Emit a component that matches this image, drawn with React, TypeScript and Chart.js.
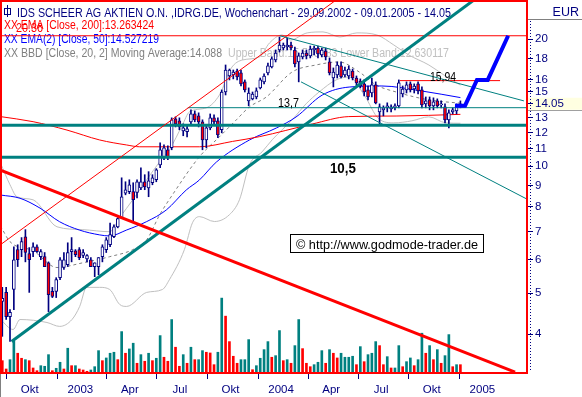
import React, { useEffect, useRef } from 'react';
import { Chart, registerables } from 'chart.js';

Chart.register(...registerables);

const FONT = '"Liberation Sans", Arial, Helvetica, sans-serif';
const NAVY = '#000080';
const TEAL = '#008080';
const RED = '#ff0000';
const BLUE = '#0000ff';

// ---------------- data (weekly candles, week 0 = week of 23.09.2002) ----------------
const firstWeek = '2002-09-23';

const opens = [4.78, 5.02, 4.40, 5.10, 6.34, 6.34, 6.80, 6.20, 6.27, 6.44,
  6.10, 6.10, 5.90, 5.05, 5.05, 5.44, 5.75, 5.84, 6.27, 6.30,
  6.34, 6.14, 6.03, 6.00, 5.78, 5.78, 6.10, 6.34, 6.51, 6.80,
  7.18, 7.55, 8.63, 8.70, 8.70, 8.66, 8.88, 9.18, 8.88, 9.13,
  9.28, 10.07, 10.52, 10.93, 11.05, 12.94, 12.80, 12.12, 12.06, 12.73,
  13.29, 13.15, 12.73, 11.54, 12.32, 13.01, 12.80, 12.19, 14.98, 16.35,
  16.44, 16.80, 16.62, 15.83, 14.27, 14.43, 14.58, 15.32, 15.83, 16.62,
  17.17, 17.84, 18.84, 19.04, 19.15, 19.36, 18.84, 17.65, 18.14, 18.53,
  18.24, 18.84, 19.04, 18.33, 18.73, 17.65, 16.17, 16.44, 17.27, 16.44,
  16.35, 16.80, 16.17, 15.91, 15.66, 15.15, 14.90, 15.57, 13.44, 13.59,
  13.74, 13.66, 13.74, 13.89, 14.82, 15.15, 15.66, 15.23, 15.66, 15.15,
  14.04, 14.35, 13.89, 14.27, 13.96, 13.81, 12.87, 13.44, 13.51, 13.89];
const highs = [5.16, 5.16, 4.57, 6.44, 6.51, 6.77, 7.07, 6.41, 6.58, 6.51,
  6.34, 6.24, 5.93, 5.16, 5.44, 6.07, 6.24, 6.58, 6.77, 6.34,
  6.41, 6.34, 6.17, 6.07, 5.90, 6.07, 6.51, 6.77, 7.33, 7.26,
  7.55, 9.38, 9.18, 9.28, 9.13, 9.28, 9.91, 9.54, 9.70, 9.54,
  9.86, 11.35, 11.23, 11.17, 13.01, 13.08, 13.01, 12.59, 12.52, 13.59,
  13.51, 13.37, 12.87, 12.52, 13.29, 13.22, 13.01, 15.15, 17.36, 16.98,
  16.89, 16.98, 16.89, 16.00, 15.32, 14.98, 15.32, 16.17, 16.53, 17.55,
  18.14, 18.84, 20.22, 19.57, 20.11, 19.68, 19.15, 18.53, 18.84, 18.84,
  19.25, 19.25, 19.25, 19.04, 19.04, 18.04, 17.08, 17.65, 17.65, 17.17,
  17.27, 16.98, 16.35, 16.09, 16.00, 15.48, 16.17, 15.83, 14.04, 13.89,
  14.12, 13.96, 14.04, 16.00, 15.48, 15.83, 15.83, 15.66, 15.83, 15.40,
  14.58, 14.58, 14.51, 14.43, 14.27, 14.04, 13.59, 13.74, 14.04, 14.27];
const lows = [3.95, 4.33, 3.84, 4.57, 5.78, 6.10, 5.93, 5.02, 6.10, 6.24,
  6.00, 5.78, 4.52, 4.88, 4.88, 5.38, 5.69, 5.78, 5.93, 6.10,
  6.00, 6.07, 5.93, 5.78, 5.47, 5.53, 5.93, 6.24, 6.44, 6.77,
  7.14, 7.51, 8.55, 8.60, 7.39, 8.41, 8.79, 8.79, 8.46, 9.03,
  9.18, 9.91, 10.35, 10.35, 10.93, 12.38, 12.19, 11.80, 11.73, 12.52,
  12.73, 12.38, 10.93, 11.05, 12.19, 12.52, 11.67, 11.99, 14.74, 16.00,
  16.09, 16.00, 15.48, 14.98, 13.89, 14.35, 14.43, 15.23, 15.66, 16.44,
  17.08, 17.65, 18.63, 18.84, 18.84, 18.84, 17.17, 15.83, 17.94, 17.94,
  18.04, 18.33, 18.04, 18.14, 17.84, 16.44, 15.40, 16.17, 16.17, 16.26,
  16.09, 16.00, 15.48, 15.32, 14.66, 14.35, 14.58, 14.04, 12.52, 13.15,
  13.44, 13.44, 13.59, 13.74, 14.58, 14.90, 14.98, 14.90, 14.82, 13.74,
  13.74, 13.59, 13.59, 13.74, 13.74, 12.66, 12.32, 13.29, 13.29, 13.74];
const closes = [4.86, 4.40, 4.50, 6.00, 6.00, 6.62, 6.24, 6.00, 6.44, 6.27,
  6.27, 5.78, 4.96, 4.91, 5.38, 6.00, 6.00, 6.24, 6.34, 6.17,
  6.07, 6.24, 6.14, 5.78, 5.90, 6.07, 6.44, 6.69, 6.88, 7.18,
  7.51, 8.46, 8.79, 9.03, 8.32, 9.18, 9.18, 8.93, 9.23, 9.38,
  9.80, 10.93, 11.05, 10.52, 12.87, 12.59, 12.38, 12.32, 12.25, 13.29,
  12.87, 12.73, 11.54, 12.32, 13.01, 12.73, 11.86, 14.98, 16.89, 16.89,
  16.71, 16.26, 15.66, 15.15, 14.90, 14.82, 15.07, 16.00, 16.35, 17.27,
  17.94, 18.53, 19.36, 19.36, 19.36, 19.04, 17.46, 18.24, 18.53, 18.24,
  18.94, 19.04, 18.43, 18.84, 18.14, 16.62, 16.71, 17.36, 16.26, 16.89,
  16.98, 16.17, 15.74, 15.48, 14.98, 14.58, 15.57, 14.12, 13.81, 13.74,
  13.89, 13.81, 13.89, 15.74, 15.23, 15.57, 15.15, 15.48, 15.07, 13.96,
  14.27, 13.89, 14.20, 13.89, 14.04, 12.87, 13.37, 13.59, 13.89, 14.05];

const volumes = [123, 40, 133, 317, 197, 147, 133, 123, 50, 23,
  73, 67, 183, 23, 47, 107, 40, 247, 73, 73,
  40, 30, 17, 30, 63, 223, 123, 150, 197, 207,
  133, 413, 197, 240, 297, 97, 183, 117, 197, 123,
  147, 373, 157, 117, 533, 257, 67, 183, 97, 257,
  133, 133, 223, 207, 200, 83, 207, 747, 567, 313,
  167, 97, 133, 133, 333, 33, 73, 147, 233, 313,
  157, 173, 423, 123, 133, 97, 273, 533, 243, 97,
  63, 83, 107, 223, 97, 233, 197, 150, 197, 157,
  157, 167, 83, 263, 113, 183, 197, 313, 273, 83,
  163, 50, 50, 273, 63, 113, 150, 73, 133, 397,
  197, 273, 133, 233, 97, 173, 383, 63, 83, 83];
const volumeUp = [0, 0, 1, 1, 0, 0, 1, 0, 0, 0,
  1, 1, 1, 0, 1, 1, 0, 1, 0, 1,
  0, 0, 0, 1, 1, 1, 0, 1, 1, 1,
  0, 1, 0, 1, 1, 0, 1, 0, 1, 0,
  1, 1, 0, 0, 1, 0, 0, 1, 0, 1,
  0, 1, 1, 0, 0, 0, 1, 1, 0, 0,
  0, 0, 1, 1, 1, 0, 1, 1, 1, 1,
  0, 1, 1, 0, 1, 0, 1, 1, 0, 0,
  0, 1, 1, 1, 0, 1, 0, 0, 1, 1,
  1, 1, 0, 1, 0, 1, 1, 1, 0, 0,
  1, 0, 1, 1, 0, 1, 1, 0, 1, 1,
  0, 1, 0, 1, 0, 1, 1, 0, 1, 0];

// indicator lines (week index, price)
const ema200Weeks = [-0.5, 8, 16.8, 25.3, 32.3, 35.7, 51.2, 59.8, 66.8, 80.5, 90, 102.3, 119];
const ema200Values = [13.1, 12.74, 12.17, 11.53, 11.22, 11.11, 11.11, 11.44, 11.74, 12.58, 13.1, 13.14, 13.26];
const ema50Weeks = [-0.5, 4.6, 9.8, 14.9, 20.1, 25.3, 27.9, 32.2, 37.4, 42.6, 47.8, 51.2, 55.6, 64.2, 71.2, 76.3, 83.1, 90.1, 98.6, 109, 119];
const ema50Values = [8.54, 8.39, 7.95, 7.38, 7.05, 6.87, 6.83, 7.05, 7.38, 7.87, 8.78, 9.27, 10.22, 11.53, 12.31, 13.07, 14.73, 15.39, 15.48, 15.06, 14.53];
const bbUpperWeeks = [-0.5, 2.0, 3.8, 8.0, 14.2, 20.9, 27.9, 30.5, 33.9, 37.5, 40.9, 43.4, 46.8, 48.6, 53.0, 56.4, 59.5, 62.4, 66.8, 69.4, 72.7, 74.8, 79.2, 83.3, 87.7, 92.1, 97.3, 101.7, 105.6, 110.8, 114.7, 119];
const bbUpperValues = [10.18, 9.03, 8.46, 8.32, 7.18, 7.07, 6.99, 7.55, 8.32, 9.28, 10.24, 10.93, 12.52, 13.44, 13.74, 14.74, 17.08, 17.84, 18.14, 19.57, 20.45, 19.89, 20.68, 20.79, 20.22, 20.68, 20.45, 19.36, 18.33, 17.36, 16.44, 15.55];
const bbLowerWeeks = [-0.5, 2.8, 4.6, 11.6, 14.9, 18.1, 20.1, 21.9, 25.3, 27.9, 30.5, 32.3, 37.5, 41.6, 43.4, 47.3, 49.4, 51.2, 55.1, 59.0, 61.6, 64.2, 67.5, 70.1, 72.7, 75.3, 78.9, 82.3, 86.7, 90.1, 94, 97.8, 101.7, 106.4, 110.8, 115.2, 119];
const bbLowerValues = [4.33, 4.10, 4.33, 4.26, 4.17, 4.33, 4.65, 5.16, 5.16, 5.10, 4.70, 4.65, 5.02, 5.10, 5.38, 6.34, 7.34, 7.59, 7.39, 7.67, 8.32, 10.07, 10.81, 11.54, 12.19, 12.87, 14.04, 14.98, 16.00, 16.26, 14.74, 12.94, 12.66, 12.80, 13.08, 12.66, 12.63];
const bbMidWeeks = [-0.5, 2.0, 8.0, 14.2, 20.9, 27.9, 33.9, 37.5, 40.9, 44.2, 51.2, 56.4, 60.8, 64.2, 68.6, 75.3, 81.5, 87.5, 92.7, 97.1, 102.3, 110.8, 119];
const bbMidValues = [7.22, 6.62, 6.30, 5.75, 5.90, 6.10, 6.34, 6.69, 7.67, 8.55, 10.52, 11.73, 12.87, 13.81, 14.58, 16.71, 17.36, 17.65, 16.71, 15.57, 14.98, 14.35, 14.09];

// drawn trend lines / levels
const upTrendWeeks = [2.4, 122.5];
const upTrendPrices = [3.84, 24.74];
const downTrendWeeks = [-0.6, 133.2];
const downTrendPrices = [9.79, 3.25];
const channelWeeks = [-0.6, 86.7];
const channelPrices = [6.5, 24.74];
const fanTopWeeks = [72.1, 135.5];
const fanTopPrices = [20.36, 14.27];
const fanSteepWeeks = [77.6, 136.3];
const fanSteepPrices = [15.83, 8.35];
const projectionWeeks = [117.6, 120.2, 123.3, 126.1, 131.4];
const projectionPrices = [13.9, 13.9, 16.0, 16.0, 20.36];
const resistanceTop = 20.36;
const level1594 = 15.94;
const level1594Weeks = [103.3, 129.3];
const level137 = 13.75;
const level137Start = 48.2;
const supportLevels = [12.5, 10.5];

// axes
const quarterStarts = ['2002-10-01', '2003-01-01', '2003-04-01', '2003-07-01', '2003-10-01', '2004-01-01', '2004-04-01', '2004-07-01', '2004-10-01', '2005-01-01'];
const quarterLabels = ['Okt', '2003', 'Apr', 'Jul', 'Okt', '2004', 'Apr', 'Jul', 'Okt', '2005'];
const priceTicks = [4, 5, 6, 7, 8, 9, 10, 11, 12, 13, 14.05, 15, 16, 18, 20];
const lastPrice = 14.05;

const X_MIN = -0.34;
const X_MAX = 136.3;
const Y_MIN = 3.234;
const Y_MAX = 24.61;
const VOL_MAX = 3710;

// ---------------- helpers ----------------
const DAY = 86400000;
const weekOf = (iso: string) =>
  (Date.parse(iso + 'T00:00:00Z') - Date.parse(firstWeek + 'T00:00:00Z')) / (7 * DAY);
const pts = (xs: number[], ys: number[]) => xs.map((x, k) => ({ x, y: ys[k] }));

function lineDs(xs: number[], ys: number[], color: string, width: number, order: number, extra: any = {}) {
  return {
    type: 'line',
    data: pts(xs, ys),
    borderColor: color,
    borderWidth: width,
    pointRadius: 0,
    pointHoverRadius: 0,
    pointBorderWidth: 0,
    fill: false,
    tension: 0,
    clip: 0,
    order,
    xAxisID: 'x',
    yAxisID: 'y',
    ...extra,
  };
}

function txt(ctx: CanvasRenderingContext2D, s: string, x: number, y: number, color: string, size: number, maxW?: number, bold = false, align: CanvasTextAlign = 'left') {
  ctx.font = `${bold ? 'bold ' : ''}${size}px ${FONT}`;
  ctx.fillStyle = color;
  ctx.textAlign = align;
  ctx.textBaseline = 'alphabetic';
  if (maxW) ctx.fillText(s, x, y, maxW);
  else ctx.fillText(s, x, y);
}

const decor = {
  id: 'decor',
  beforeDraw(chart: any) {
    const { ctx, chartArea: a, scales } = chart;
    ctx.save();
    ctx.fillStyle = '#ffffff';
    ctx.fillRect(0, 0, chart.width, chart.height);
    const yp = scales.y.getPixelForValue(lastPrice);
    ctx.fillStyle = '#ffffe1';
    ctx.fillRect(a.right + 1, yp - 6, chart.width - a.right - 1, 12);
    ctx.strokeStyle = '#a0a0a0';
    ctx.lineWidth = 1;
    ctx.beginPath();
    ctx.moveTo(a.right + 1, Math.round(yp + 6) + 0.5);
    ctx.lineTo(chart.width, Math.round(yp + 6) + 0.5);
    ctx.stroke();
    ctx.restore();
  },
  beforeDatasetsDraw(chart: any) {
    const { ctx } = chart;
    ctx.save();
    // icon
    ctx.strokeStyle = NAVY;
    ctx.lineWidth = 1;
    ctx.strokeRect(4.5, 8.5, 6, 6);
    ctx.beginPath();
    ctx.moveTo(7.5, 5);
    ctx.lineTo(7.5, 17);
    ctx.stroke();
    txt(ctx, 'IDS SCHEER AG AKTIEN O.N. ,IDRG.DE, Wochenchart - 29.09.2002 - 09.01.2005 - 14.05', 17, 16.5, NAVY, 12.5, 434);
    txt(ctx, 'XX EMA [Close, 200]:13.263424', 4, 28.5, RED, 12.5, 150);
    txt(ctx, 'XX EMA(2) [Close, 50]:14.527219', 4, 42.5, BLUE, 12.5, 155);
    txt(ctx, 'XX BBD [Close, 20, 2] Moving Average:14.088', 4, 57, '#808080', 12.5, 218);
    txt(ctx, 'Upper Band:15.545883 Lower Band:12.630117', 228, 57, '#c0c0c0', 12.5, 221);
    txt(ctx, '20.36', 16, 32, RED, 12, 27);
    ctx.restore();
  },
  afterDatasetsDraw(chart: any) {
    const { ctx, chartArea: a, scales } = chart;
    const xs = scales.x;
    const ys = scales.y;
    ctx.save();
    // level labels
    txt(ctx, '13,7', xs.getPixelForValue(71.6), ys.getPixelForValue(level137) - 0.5, '#000000', 12.5, 21);
    txt(ctx, '15,94', xs.getPixelForValue(111.1), ys.getPixelForValue(level1594) + 0.5, '#000000', 12.5, 26);
    txt(ctx, '10,5', xs.getPixelForValue(85.1), ys.getPixelForValue(supportLevels[1]) + 16, '#000000', 14, 26, true);
    // copyright box
    ctx.fillStyle = '#ffffff';
    ctx.fillRect(290, 234, 194, 19);
    ctx.strokeStyle = '#000000';
    ctx.lineWidth = 1;
    ctx.strokeRect(290.5, 234.5, 193, 18);
    txt(ctx, '\u00a9 http://www.godmode-trader.de', 296, 248.5, '#000000', 13, 182);
    // frame
    ctx.strokeStyle = RED;
    ctx.lineWidth = 2;
    ctx.strokeRect(a.left, a.top, a.right - a.left, a.bottom - a.top);
    // price axis dotted line
    ctx.strokeStyle = NAVY;
    ctx.lineWidth = 1;
    ctx.setLineDash([1, 2]);
    ctx.beginPath();
    ctx.moveTo(530.5, 21);
    ctx.lineTo(530.5, a.bottom - 2);
    ctx.stroke();
    ctx.setLineDash([]);
    // EUR header + small separators
    ctx.strokeStyle = '#808080';
    ctx.beginPath();
    ctx.moveTo(a.right + 1, 19.5);
    ctx.lineTo(chart.width, 19.5);
    ctx.moveTo(0.5, a.bottom + 1);
    ctx.lineTo(0.5, chart.height);
    ctx.stroke();
    txt(ctx, 'EUR', 579, 16, NAVY, 12.5, undefined, false, 'right');
    ctx.restore();
  },
};

export default function App() {
  const ref = useRef<HTMLCanvasElement>(null);

  useEffect(() => {
    document.body.style.margin = '0';
    const canvas = ref.current;
    if (!canvas) return;

    const idx = closes.map((_, i) => i);
    const wicks = idx.map((i) => ({ x: i, y: [lows[i], highs[i]] }));
    const bodies = idx.map((i) => ({ x: i, y: [Math.min(opens[i], closes[i]), Math.max(opens[i], closes[i])] }));
    const bodyColors = idx.map((i) => (closes[i] >= opens[i] ? '#ffffff' : RED));
    const volData = idx.map((i) => ({ x: i, y: volumes[i] }));
    const volColors = volumeUp.map((u) => (u ? TEAL : RED));

    const qw = quarterStarts.map(weekOf);
    const xTickValues: number[] = [];
    qw.forEach((w) => {
      xTickValues.push(w);
      xTickValues.push(w + 6);
    });

    const smooth = { cubicInterpolationMode: 'monotone' };

    const datasets: any[] = [
      {
        type: 'bar', data: volData, backgroundColor: volColors, barThickness: 2, grouped: false,
        xAxisID: 'x', yAxisID: 'yv', order: 30,
      },
      lineDs(bbUpperWeeks, bbUpperValues, '#c0c0c0', 1, 25, smooth),
      lineDs(bbLowerWeeks, bbLowerValues, '#c0c0c0', 1, 25, smooth),
      lineDs(bbMidWeeks, bbMidValues, '#808080', 1, 24, { ...smooth, borderDash: [3, 3] }),
      lineDs(ema200Weeks, ema200Values, RED, 1, 22, smooth),
      lineDs(ema50Weeks, ema50Values, BLUE, 1, 22, smooth),
      {
        type: 'bar', data: wicks, backgroundColor: NAVY, barThickness: 1, grouped: false,
        xAxisID: 'x', yAxisID: 'y', order: 12,
      },
      {
        type: 'bar', data: bodies, backgroundColor: bodyColors, borderColor: NAVY, borderWidth: 1,
        borderSkipped: false, barThickness: 3, grouped: false, xAxisID: 'x', yAxisID: 'y', order: 11,
      },
      lineDs([X_MIN, X_MAX], [resistanceTop, resistanceTop], RED, 1, 8),
      lineDs([level137Start, X_MAX], [level137, level137], TEAL, 1, 8),
      lineDs(level1594Weeks, [level1594, level1594], RED, 1, 8),
      lineDs([X_MIN, X_MAX], [supportLevels[0], supportLevels[0]], TEAL, 3, 7),
      lineDs([X_MIN, X_MAX], [supportLevels[1], supportLevels[1]], TEAL, 3, 7),
      lineDs(fanTopWeeks, fanTopPrices, TEAL, 1, 6),
      lineDs(fanSteepWeeks, fanSteepPrices, TEAL, 1, 6),
      lineDs(channelWeeks, channelPrices, RED, 1, 6),
      lineDs(downTrendWeeks, downTrendPrices, RED, 3, 5),
      lineDs(upTrendWeeks, upTrendPrices, TEAL, 3, 5),
      lineDs(projectionWeeks, projectionPrices, BLUE, 4, 1),
    ];

    const chart = new Chart(canvas, {
      type: 'line',
      data: { datasets },
      options: {
        responsive: false,
        animation: false,
        devicePixelRatio: 1,
        events: [],
        layout: { autoPadding: false, padding: { left: 1, top: 1, right: 0, bottom: 0 } },
        plugins: { legend: { display: false }, tooltip: { enabled: false }, title: { display: false } },
        scales: {
          x: {
            type: 'linear',
            position: 'bottom',
            offset: false,
            min: X_MIN,
            max: X_MAX,
            afterBuildTicks: (s: any) => {
              s.ticks = xTickValues.map((v) => ({ value: v }));
            },
            afterFit: (s: any) => {
              s.height = 24;
              s.paddingLeft = 0;
              s.paddingRight = 0;
            },
            grid: {
              offset: false,
              drawOnChartArea: false,
              drawTicks: true,
              tickLength: 6,
              tickWidth: 1,
              tickColor: (c: any) => (c.index % 2 === 0 ? NAVY : 'rgba(0,0,0,0)'),
            },
            border: { display: false },
            ticks: {
              autoSkip: false,
              maxRotation: 0,
              minRotation: 0,
              padding: 4,
              color: NAVY,
              font: { family: FONT, size: 11.5 },
              callback: (_v: any, i: number) => (i % 2 === 1 ? quarterLabels[(i - 1) / 2] : ''),
            },
          },
          y: {
            type: 'logarithmic',
            position: 'right',
            offset: false,
            min: Y_MIN,
            max: Y_MAX,
            afterBuildTicks: (s: any) => {
              s.ticks = priceTicks.map((v) => ({ value: v }));
            },
            afterFit: (s: any) => {
              s.width = 55;
              s.paddingTop = 0;
              s.paddingBottom = 0;
            },
            grid: { offset: false, drawOnChartArea: false, drawTicks: true, tickLength: 6, tickColor: NAVY, tickWidth: 1 },
            border: { display: false },
            ticks: {
              autoSkip: false,
              padding: 2,
              color: NAVY,
              font: { family: FONT, size: 11.5 },
              callback: (v: any) => (v === lastPrice ? '14.05' : String(v)),
            },
          },
          yv: {
            type: 'linear',
            display: false,
            offset: false,
            min: 0,
            max: VOL_MAX,
          },
        },
      } as any,
      plugins: [decor as any],
    } as any);

    return () => chart.destroy();
  }, []);

  return (
    <div style={{ width: 582, height: 397 }}>
      <canvas ref={ref} width={582} height={397} style={{ display: 'block', width: 582, height: 397 }} />
    </div>
  );
}
